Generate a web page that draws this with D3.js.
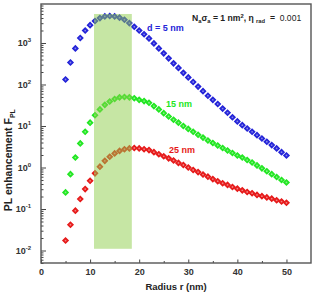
<!DOCTYPE html>
<html>
<head>
<meta charset="utf-8">
<script src="https://cdn.jsdelivr.net/npm/d3@7/dist/d3.min.js"></script>
<style>
  body { margin: 0; background: #fff; }
  text { font-family: "Liberation Sans", Arial, sans-serif; font-weight: bold; }
</style>
</head>
<body>
<script>

var width = 317,
    height = 293;

// radius r (nm), one point per nm
var radii = d3.range(5, 51);

// log10 of PL enhancement
var logD5 = [2.12, 2.53, 2.87, 3.12, 3.30, 3.43, 3.53, 3.60, 3.64, 3.65,
             3.64, 3.61, 3.56, 3.48, 3.39, 3.30, 3.21, 3.11, 2.99, 2.87,
             2.75, 2.63, 2.51, 2.40, 2.28, 2.17, 2.06, 1.95, 1.84, 1.73,
             1.63, 1.53, 1.42, 1.32, 1.21, 1.11, 1.02, 0.94, 0.86, 0.78,
             0.70, 0.62, 0.54, 0.46, 0.37, 0.29];
var logD15 = [-0.60, -0.16, 0.24, 0.58, 0.86, 1.08, 1.26, 1.40, 1.51, 1.59,
              1.65, 1.69, 1.70, 1.69, 1.67, 1.63, 1.60, 1.56, 1.48, 1.40,
              1.31, 1.23, 1.15, 1.08, 1.00, 0.93, 0.86, 0.79, 0.72, 0.65,
              0.59, 0.53, 0.47, 0.41, 0.35, 0.29, 0.24, 0.18, 0.12, 0.05,
              -0.02, -0.09, -0.16, -0.23, -0.30, -0.36];
var logD25 = [-1.76, -1.38, -1.04, -0.76, -0.52, -0.32, -0.14, 0.02, 0.16, 0.26,
              0.34, 0.40, 0.44, 0.46, 0.47, 0.46, 0.44, 0.42, 0.37, 0.32,
              0.27, 0.22, 0.17, 0.11, 0.06, 0.00, -0.06, -0.11, -0.17, -0.22,
              -0.28, -0.33, -0.38, -0.42, -0.47, -0.51, -0.55, -0.59, -0.62, -0.66,
              -0.69, -0.72, -0.75, -0.79, -0.82, -0.85];

var seriesNames = ['d = 5 nm', '15 nm', '25 nm'];
var seriesLogs = [logD5, logD15, logD25];
var seriesColors = ['#2424d8', '#22e622', '#e61a1a'];
var labelAt = [[147, 31], [166, 107], [169, 153]];

var xTicks = [0, 10, 20, 30, 40, 50];
var xMinor = [5, 15, 25, 35, 45];
var yExps = [-2, -1, 0, 1, 2, 3];

// shaded band (radius range, enhancement range)
var bandR = [10.8, 18.5];
var bandF = [0.011, 5000];

var m = {left: 41, right: 6, top: 4, bottom: 30};

var x = d3.scaleLinear()
    .domain([0, 55])
    .range([m.left, width - m.right]);

var y = d3.scaleLog()
    .domain([0.005, 8700])
    .range([height - m.bottom, m.top]);

var svg = d3.select('body')
    .append('svg')
    .attr('width', width)
    .attr('height', height);

// y minor ticks
var yMinor = [];
d3.range(-3, 4).forEach(function(e) {
    d3.range(2, 10).forEach(function(k) {
        var v = k * Math.pow(10, e);
        if (v >= 0.005 && v <= 8700) yMinor.push(v);
    });
});

svg.append('g')
    .attr('transform', 'translate(' + m.left + ',0)')
    .call(d3.axisLeft(y).tickValues(yMinor).tickSize(-2.5).tickFormat(''))
    .call(function(g) { g.select('.domain').remove(); })
    .selectAll('line').attr('stroke', '#444');

var yAx = svg.append('g')
    .attr('transform', 'translate(' + m.left + ',0)')
    .call(d3.axisLeft(y)
        .tickValues(yExps.map(function(e) { return Math.pow(10, e); }))
        .tickSize(-5)
        .tickPadding(10)
        .tickFormat(''));
yAx.select('.domain').remove();
yAx.selectAll('line').attr('stroke', '#444');
yAx.selectAll('.tick text')
    .attr('font-size', 9)
    .attr('fill', '#333')
    .each(function(d) {
        var t = d3.select(this);
        t.append('tspan').text('10');
        t.append('tspan')
            .attr('dy', -4)
            .attr('font-size', 6)
            .text(Math.round(Math.log10(d)));
    });

// x axis
svg.append('g')
    .attr('transform', 'translate(0,' + (height - m.bottom) + ')')
    .call(d3.axisBottom(x).tickValues(xMinor).tickSize(-2).tickFormat(''))
    .call(function(g) { g.select('.domain').remove(); })
    .selectAll('line').attr('stroke', '#444');

var xAx = svg.append('g')
    .attr('transform', 'translate(0,' + (height - m.bottom) + ')')
    .call(d3.axisBottom(x).tickValues(xTicks).tickSize(-3.5).tickPadding(6));
xAx.select('.domain').remove();
xAx.selectAll('line').attr('stroke', '#444');
xAx.selectAll('text').attr('font-size', 9).attr('fill', '#333');

// data points
seriesLogs.forEach(function(logs, i) {
    var pts = radii.map(function(r, j) { return {r: r, f: Math.pow(10, logs[j])}; });
    var g = svg.append('g');
    g.selectAll('path')
        .data(pts)
        .enter()
        .append('path')
        .attr('d', d3.symbol().type(d3.symbolSquare).size(14))
        .attr('transform', function(d) {
            return 'translate(' + x(d.r) + ',' + y(d.f) + ') rotate(45)';
        })
        .attr('fill', seriesColors[i])
        .attr('stroke', seriesColors[i])
        .attr('stroke-width', 1.3);
    g.selectAll('circle')
        .data(pts)
        .enter()
        .append('circle')
        .attr('cx', function(d) { return x(d.r); })
        .attr('cy', function(d) { return y(d.f); })
        .attr('r', 0.9)
        .attr('fill', '#fff')
        .attr('opacity', 0.45);
    svg.append('text')
        .attr('x', labelAt[i][0])
        .attr('y', labelAt[i][1])
        .attr('font-size', 9)
        .attr('fill', seriesColors[i])
        .text(seriesNames[i]);
});

// shaded radius band
svg.append('rect')
    .attr('x', x(bandR[0]))
    .attr('y', y(bandF[1]))
    .attr('width', x(bandR[1]) - x(bandR[0]))
    .attr('height', y(bandF[0]) - y(bandF[1]))
    .attr('fill', '#8dcd49')
    .attr('opacity', 0.5);

// frame
svg.append('rect')
    .attr('x', m.left)
    .attr('y', m.top)
    .attr('width', width - m.right - m.left)
    .attr('height', height - m.bottom - m.top)
    .attr('fill', 'none')
    .attr('stroke', '#555')
    .attr('stroke-width', 1.4);

// annotation
var note = svg.append('text')
    .attr('x', 192)
    .attr('y', 21)
    .attr('font-size', 8.6)
    .attr('fill', '#222')
    .style('white-space', 'pre');
note.append('tspan').text('N');
note.append('tspan').attr('dy', 2).attr('font-size', 5.8).text('a');
note.append('tspan').attr('dy', -2).text('\u03c3');
note.append('tspan').attr('dy', 2).attr('font-size', 5.8).text('a');
note.append('tspan').attr('dy', -2).text(' = 1 nm');
note.append('tspan').attr('dy', -3).attr('font-size', 5.8).text('2');
note.append('tspan').attr('dy', 3).text(', \u03b7 ');
note.append('tspan').attr('dy', 2).attr('font-size', 5.8).text('rad');
note.append('tspan').attr('dy', -2).text('  =  ');
note.append('tspan').attr('font-weight', 'normal').text('0.001');

// axis titles
svg.append('text')
    .attr('x', x(27.5))
    .attr('y', 290)
    .attr('text-anchor', 'middle')
    .attr('font-size', 9.5)
    .attr('fill', '#222')
    .text('Radius r (nm)');

var yl = svg.append('text')
    .attr('transform', 'translate(12,' + y(1.5) + ') rotate(-90)')
    .attr('text-anchor', 'middle')
    .attr('font-size', 10.5)
    .attr('fill', '#222');
yl.append('tspan').text('PL enhancement F');
yl.append('tspan').attr('dy', 3).attr('font-size', 7).text('PL');

</script>
</body>
</html>
